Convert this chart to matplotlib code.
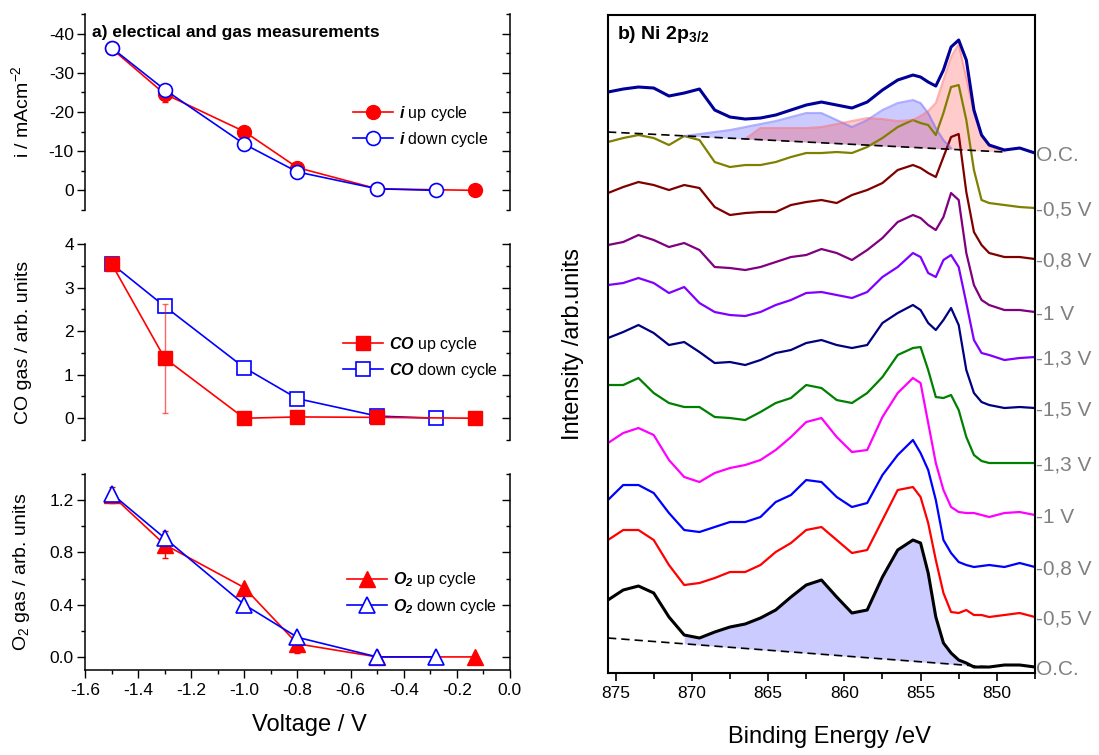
import numpy as np
import matplotlib
matplotlib.use("Agg")
import matplotlib.pyplot as plt
from matplotlib.ticker import MultipleLocator

plt.rcParams["font.family"] = ["Liberation Sans", "DejaVu Sans"]
plt.rcParams["axes.unicode_minus"] = False
plt.rcParams["mathtext.fontset"] = "custom"
plt.rcParams["mathtext.rm"] = "Liberation Sans"
plt.rcParams["mathtext.it"] = "Liberation Sans:italic"
plt.rcParams["mathtext.bf"] = "Liberation Sans:bold"
plt.rcParams["mathtext.bfit"] = "Liberation Sans:bold:italic"

# --- a) electrical and gas measurements ---
voltage_up = [-1.5, -1.3, -1.0, -0.8, -0.5, -0.13]
voltage_down = [-1.5, -1.3, -1.0, -0.8, -0.5, -0.28]

i_up = [-36.2, -24.6, -15.0, -5.8, -0.4, 0.0]
i_up_err = [0, 2.0, 0, 0, 0, 0]
i_down = [-36.4, -25.7, -11.8, -4.7, -0.4, 0.0]

co_up = [3.55, 1.38, 0.0, 0.03, 0.02, 0.0]
co_up_err = [0, 1.25, 0, 0, 0, 0]
co_down = [3.55, 2.57, 1.16, 0.45, 0.05, 0.0]

o2_up = [1.24, 0.86, 0.53, 0.10, 0.0, 0.0]
o2_up_err = [0.06, 0.10, 0, 0.07, 0, 0]
o2_down = [1.25, 0.91, 0.40, 0.15, 0.0, 0.0]

# --- b) Ni 2p3/2 spectra (stacked, arb. units) ---
be = [875.5, 874.5, 873.5, 872.5, 871.5, 870.5, 869.5, 868.5, 867.5, 866.5,
      865.5, 864.5, 863.5, 862.5, 861.5, 860.5, 859.5, 858.5, 857.5, 856.5,
      855.5, 855.0, 854.5, 854.0, 853.5, 853.0, 852.5, 852.0, 851.5, 851.0,
      850.5, 849.5, 848.5, 847.5]

oc_top_fit = [581, 584, 586, 585, 577, 580, 584, 563, 556, 554, 555, 558, 563, 568, 571, 568, 565,
              571, 583, 593, 598, 596, 591, 587, 603, 626, 633, 613, 563, 538, 528, 523, 525, 520]
up_05 = [531, 535, 538, 535, 528, 537, 533, 511, 506, 508, 508, 511, 516, 520, 520, 521, 520,
         526, 535, 546, 553, 550, 548, 538, 560, 586, 588, 553, 503, 473, 470, 468, 466, 465]
up_08 = [480, 486, 491, 488, 483, 488, 485, 466, 458, 460, 461, 461, 468, 471, 473, 470, 478,
         483, 490, 503, 508, 505, 500, 496, 516, 536, 539, 481, 441, 428, 420, 416, 416, 414]
up_10 = [428, 431, 438, 433, 426, 430, 423, 406, 405, 403, 406, 411, 416, 418, 424, 420, 413,
         423, 435, 451, 458, 455, 448, 443, 456, 480, 473, 420, 388, 373, 368, 363, 363, 361]
up_13 = [388, 390, 395, 390, 380, 386, 370, 361, 358, 357, 361, 368, 373, 380, 381, 378, 375,
         381, 396, 406, 420, 416, 400, 396, 413, 418, 406, 370, 333, 320, 318, 313, 315, 316]
at_15 = [335, 341, 348, 340, 328, 331, 321, 310, 311, 308, 313, 320, 323, 330, 333, 328, 325,
         328, 350, 360, 368, 363, 350, 343, 353, 365, 348, 303, 280, 271, 268, 265, 266, 265]
down_13 = [288, 288, 295, 280, 270, 266, 266, 256, 255, 253, 261, 270, 275, 288, 285, 273, 270,
           280, 296, 318, 325, 326, 303, 276, 275, 278, 263, 236, 218, 212, 210, 210, 210, 210]
down_10 = [230, 240, 245, 238, 213, 196, 191, 200, 205, 208, 213, 223, 236, 251, 255, 236, 221,
           223, 256, 280, 295, 290, 250, 210, 183, 166, 161, 160, 160, 158, 156, 160, 161, 158]
down_08 = [173, 188, 188, 180, 160, 143, 141, 146, 151, 151, 156, 171, 178, 193, 191, 176, 166,
           170, 198, 218, 233, 220, 203, 173, 133, 120, 111, 108, 106, 107, 108, 106, 110, 106]
down_05 = [133, 143, 143, 133, 108, 88, 90, 95, 101, 101, 108, 121, 130, 143, 146, 133, 120,
           123, 153, 183, 186, 176, 150, 113, 80, 61, 60, 63, 58, 58, 56, 58, 60, 56]
oc_bot_fit = [73, 83, 87, 80, 56, 38, 35, 41, 46, 49, 55, 63, 76, 88, 93, 76, 60,
              63, 96, 123, 133, 130, 100, 56, 30, 20, 13, 10, 6, 6, 6, 8, 8, 6]

# fitted components of the top O.C. spectrum
oxide_be = be[5:26]
oxide_top = [537, 539, 541, 543, 546, 549, 552, 556, 560, 560, 553, 546, 553, 563, 570,
             573, 570, 560, 545, 533, 525]
metal_be = be[9:32]
metal_top = [534, 545, 545, 545, 545, 546, 549, 552, 555, 554, 552, 553, 557, 562, 570,
             593, 616, 629, 595, 560, 537, 527, 522]

# backgrounds (straight lines)
bg_top_be = [875.5, 849.5]
bg_top = [541, 521]
bg_bot_be = [875.5, 850.5]
bg_bot = [35, 6]
fill_bot_be = be[5:31]

spectra = [oc_top_fit, up_05, up_08, up_10, up_13, at_15, down_13, down_10, down_08, down_05, oc_bot_fit]
colors = ["#000099", "#808000", "#800000", "#800080", "#8000FF", "#000080",
          "#008000", "#FF00FF", "#0000FF", "#FF0000", "#000000"]
spectrum_labels = ["O.C.", "-0,5 V", "-0,8 V", "-1 V", "-1,3 V", "-1,5 V",
                   "-1,3 V", "-1 V", "-0,8 V", "-0,5 V", "O.C."]

fig = plt.figure(figsize=(10.99, 7.55), dpi=100)
ax1 = fig.add_axes([0.0773, 0.7219, 0.3867, 0.2596])
ax2 = fig.add_axes([0.0773, 0.4172, 0.3867, 0.2596])
ax3 = fig.add_axes([0.0773, 0.1126, 0.3867, 0.2596])
axb = fig.add_axes([0.5532, 0.1086, 0.3885, 0.8715])


def style_left(ax, major, minor, bottom=False):
    ax.spines["top"].set_visible(False)
    ax.spines["right"].set_visible(False)
    if not bottom:
        ax.spines["bottom"].set_visible(False)
    for s in ax.spines.values():
        s.set_linewidth(1.1)
    ax.set_xlim(-1.6, 0.0)
    ax.yaxis.set_major_locator(MultipleLocator(major))
    ax.yaxis.set_minor_locator(MultipleLocator(minor))
    ax.tick_params(axis="y", which="both", direction="out", width=1, labelsize=12.5, pad=2)
    ax.tick_params(axis="y", which="major", length=6)
    ax.tick_params(axis="y", which="minor", length=3)
    sec = ax.secondary_yaxis("right")
    sec.spines["right"].set_linewidth(1.1)
    sec.yaxis.set_major_locator(MultipleLocator(major))
    sec.yaxis.set_minor_locator(MultipleLocator(minor))
    sec.tick_params(which="both", direction="in", labelright=False, width=1)
    sec.tick_params(which="major", length=6)
    sec.tick_params(which="minor", length=3)
    if bottom:
        ax.xaxis.set_major_locator(MultipleLocator(0.2))
        ax.xaxis.set_minor_locator(MultipleLocator(0.1))
        ax.tick_params(axis="x", which="both", direction="out", width=1, labelsize=12.5)
        ax.tick_params(axis="x", which="major", length=6)
        ax.tick_params(axis="x", which="minor", length=3)
    else:
        ax.tick_params(axis="x", which="both", bottom=False, labelbottom=False)
    ax.yaxis.set_label_coords(-0.125, 0.5)


leg_kw = dict(loc="center left", frameon=False, fontsize=11.5, handlelength=2.5,
              handletextpad=0.4, labelspacing=0.45, borderpad=0, borderaxespad=0)

# panel 1: current
ax1.errorbar(voltage_up, i_up, yerr=i_up_err, fmt="none", ecolor="red", elinewidth=1, capsize=2)
l1, = ax1.plot(voltage_up, i_up, "-o", color="red", mfc="red", mec="red", ms=10, lw=1.2)
l2, = ax1.plot(voltage_down, i_down, "-o", color="blue", mfc="white", mec="blue", ms=10, mew=1.2, lw=1.2)
ax1.set_ylim(5, -45)
style_left(ax1, 10, 5)
ax1.set_ylabel("i / mAcm$^{-2}$", fontsize=14)
ax1.text(0.016, 0.903, "a) electical and gas measurements", transform=ax1.transAxes,
         fontsize=12.5, fontweight="bold", va="center")
ax1.legend([l1, l2], [r"$\mathbfit{i}$ up cycle", r"$\mathbfit{i}$ down cycle"],
           bbox_to_anchor=(0.63, 0.426), **leg_kw)

# panel 2: CO
l4, = ax2.plot(voltage_down, co_down, "-s", color="blue", mfc="white", mec="blue", ms=9.5, mew=1.2, lw=1.2)
ax2.errorbar(voltage_up, co_up, yerr=co_up_err, fmt="none", ecolor="red", alpha=0.6, elinewidth=1, capsize=2)
l3, = ax2.plot(voltage_up, co_up, "-s", color="red", mfc="red", mec="red", ms=9.5, lw=1.2)
ax2.set_ylim(-0.5, 4.0)
style_left(ax2, 1, 0.5)
ax2.set_ylabel("CO gas / arb. units", fontsize=14)
ax2.legend([l3, l4], [r"$\mathbfit{CO}$ up cycle", r"$\mathbfit{CO}$ down cycle"],
           bbox_to_anchor=(0.607, 0.423), **leg_kw)

# panel 3: O2
ax3.errorbar(voltage_up, o2_up, yerr=o2_up_err, fmt="none", ecolor="red", elinewidth=1, capsize=2)
l5, = ax3.plot(voltage_up, o2_up, "-^", color="red", mfc="red", mec="red", ms=11, lw=1.2)
l6, = ax3.plot(voltage_down, o2_down, "-^", color="blue", mfc="white", mec="blue", ms=11, mew=1.2, lw=1.2)
ax3.set_ylim(-0.1, 1.4)
style_left(ax3, 0.4, 0.2, bottom=True)
ax3.yaxis.set_major_formatter(plt.FormatStrFormatter("%.1f"))
ax3.set_ylabel("O$_2$ gas / arb. units", fontsize=14)
ax3.set_xlabel("Voltage / V", fontsize=17)
ax3.xaxis.set_label_coords(0.527, -0.225)
ax3.legend([l5, l6], [r"$\mathbfit{O}_{\mathbfit{2}}$ up cycle", r"$\mathbfit{O}_{\mathbfit{2}}$ down cycle"],
           bbox_to_anchor=(0.616, 0.393), **leg_kw)

# panel b: stacked spectra
for vals, col in zip(spectra[1:-1], colors[1:-1]):
    axb.plot(be, vals, color=col, lw=1.6)

bg_oxide = np.interp(oxide_be, bg_top_be[::-1], bg_top[::-1])
bg_metal = np.interp(metal_be, bg_top_be[::-1], bg_top[::-1])
axb.fill_between(oxide_be, bg_oxide, oxide_top, color="#3333ff", alpha=0.25, lw=0)
axb.plot(oxide_be, oxide_top, color="#6666ff", alpha=0.5, lw=1.5)
axb.fill_between(metal_be, bg_metal, metal_top, color="#ff3333", alpha=0.25, lw=0)
axb.plot(metal_be, metal_top, color="#ff6666", alpha=0.5, lw=1.5)
axb.plot(bg_top_be, bg_top, "--", color="black", lw=1.2, dashes=(5, 3))
axb.plot(be, oc_top_fit, color=colors[0], lw=2.2)

fill_vals = oc_bot_fit[5:31]
bg_fill = np.interp(fill_bot_be, bg_bot_be[::-1], bg_bot[::-1])
axb.fill_between(fill_bot_be, bg_fill, fill_vals, color="#3333ff", alpha=0.25, lw=0)
axb.plot(bg_bot_be, bg_bot, "--", color="black", lw=1.2, dashes=(5, 3))
axb.plot(be, oc_bot_fit, color=colors[-1], lw=2.2)

axb.set_xlim(875.5, 847.5)
axb.set_ylim(0, 658)
for s in axb.spines.values():
    s.set_linewidth(1.5)
axb.xaxis.set_major_locator(MultipleLocator(5))
axb.xaxis.set_minor_locator(MultipleLocator(2.5))
axb.tick_params(axis="x", which="both", direction="out", width=1.2, labelsize=12.5, top=False)
axb.tick_params(axis="x", which="major", length=6)
axb.tick_params(axis="x", which="minor", length=4)
axb.yaxis.tick_right()
axb.set_yticks([v[-1] for v in spectra])
axb.set_yticklabels(spectrum_labels)
axb.tick_params(axis="y", length=0, pad=1, labelsize=15, labelcolor="#808080")
axb.yaxis.set_label_position("left")
axb.set_ylabel("Intensity /arb.units", fontsize=17)
axb.yaxis.set_label_coords(-0.055, 0.5)
axb.set_xlabel("Binding Energy /eV", fontsize=17)
axb.xaxis.set_label_coords(0.518, -0.08)
axb.text(0.021, 0.97, r"b) Ni 2p$_{\mathbf{3/2}}$", transform=axb.transAxes,
         fontsize=14, fontweight="bold", va="center")

fig.savefig("out.png", dpi=100)
